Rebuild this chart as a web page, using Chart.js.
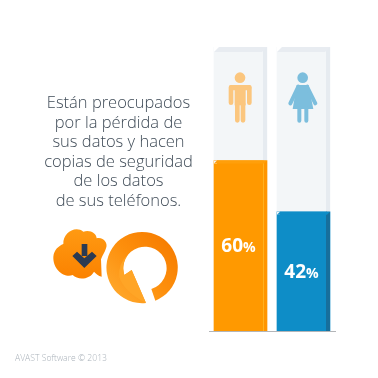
<!DOCTYPE html>
<html>
<head>
<meta charset="utf-8">
<script src="https://cdn.jsdelivr.net/npm/chart.js@4"></script>
<style>
  html, body { margin: 0; background: #fff; }
  #wrap { position: relative; width: 378px; height: 378px; overflow: hidden; }
  canvas, svg, .text { position: absolute; }
  .text { font-family: "Open Sans", sans-serif; font-weight: 300; white-space: nowrap; }
  #caption { left: 30px; top: 92px; width: 177px; text-align: center; font-size: 16.5px; line-height: 19.6px; color: #3f4b57; }
  #footer { left: 15px; top: 351px; font-size: 8.6px; line-height: 14px; color: #aab2ba; }
</style>
</head>
<body>
<div id="wrap">
  <canvas id="chart" width="378" height="378"></canvas>

  <div id="caption" class="text">Están preocupados<br>por la pérdida de<br>sus datos y hacen<br>copias de seguridad<br>de los datos<br>de sus teléfonos.</div>
  <div id="footer" class="text">AVAST Software © 2013</div>

  <!-- man and woman, sitting on the pale part of the bars -->
  <svg style="left:200px;top:30px" width="140" height="150" viewBox="0 0 420 450">
    <g fill="#fbc67e" stroke="#fbc67e" stroke-linecap="round">
      <circle cx="120" cy="143" r="16" stroke="none"/>
      <rect x="87" y="165" width="67" height="16" rx="8" stroke="none"/>
      <rect x="104" y="170" width="33" height="56" stroke="none"/>
      <path d="M93 172V218M148 172V218M112 220V271M129 220V271" fill="none" stroke-width="14"/>
    </g>
    <g fill="#7cbedd" stroke="#7cbedd" stroke-linecap="round">
      <circle cx="308" cy="143" r="16" stroke="none"/>
      <path d="M290 165H326L340 237H278Z" stroke="none"/>
      <path d="M295 170L271 220M321 170L346 220M298 235V272M319 235V272" fill="none" stroke-width="12"/>
    </g>
  </svg>

  <!-- cloud and logo -->
  <svg style="left:40px;top:220px" width="150" height="100" viewBox="0 0 450 300">
    <defs>
      <linearGradient id="cloudFill" x1="0" y1="0" x2="0" y2="1">
        <stop offset="0" stop-color="#ff9a12"/>
        <stop offset="1" stop-color="#fb8200"/>
      </linearGradient>
      <linearGradient id="ringFill" x1="0.1" y1="0.9" x2="0.9" y2="0.1">
        <stop offset="0" stop-color="#ffa82c"/>
        <stop offset="0.5" stop-color="#fd8f0c"/>
        <stop offset="1" stop-color="#f67c00"/>
      </linearGradient>
    </defs>
    <path d="M185 170C175 168 168 160 162 155C150 178 115 182 98 165C75 175 38 150 40 110C42 90 55 78 70 72C68 40 105 15 130 35C150 28 170 40 170 55C190 50 205 70 198 85C194 98 188 105 183 118Z" fill="url(#cloudFill)"/>
    <path d="M125 72H142V108H125Z" fill="#2b3a52"/>
    <path d="M97 108L111 95L133 115L156 95L170 108L133 144Z" fill="#2b3a52"/>
    <g transform="translate(3 2)">
      <path d="M315 247A107 107 0 1 1 343 240L331 205A65 65 0 1 0 250 163L272 148Z" fill="url(#ringFill)"/>
      <path d="M315 247L272 148L250 163A65 65 0 0 1 262 101A80 80 0 0 0 235 170Q250 215 315 247Z" fill="#ffa526"/>
    </g>
  </svg>
</div>

<script>
const categories = ['Hombres', 'Mujeres'];
const percentValues = [60, 42];
const fullValues = [100, 100];
const barColors = ['#ff9900', '#0e8dc7'];
const barSideColors = ['#ff9500', '#176f9c'];
const barEdgeColors = ['#ffb11f', '#176f9c'];
const barTopColors = ['#ff9f0a', '#0e8dc7'];

// top face as a slanted strip, leaves the left corner showing what is behind
function topFace(ctx, bar, depth, color) {
  const left = bar.x - bar.width / 2;
  const right = bar.x + bar.width / 2;
  ctx.fillStyle = color;
  ctx.beginPath();
  ctx.moveTo(left + depth, bar.y);
  ctx.lineTo(right, bar.y);
  ctx.lineTo(right - depth, bar.y + depth);
  ctx.lineTo(left, bar.y + depth);
  ctx.closePath();
  ctx.fill();
}

// sides and top faces for the 3d look, plus the value labels
const bar3dPlugin = {
  id: 'bar3d',
  afterDatasetsDraw(chart) {
    const ctx = chart.ctx;
    const side = 4;
    const full = chart.getDatasetMeta(1).data;
    const value = chart.getDatasetMeta(0).data;

    ctx.save();
    full.forEach((bar, i) => {
      const right = bar.x + bar.width / 2;
      ctx.fillStyle = '#e6ebf0';
      ctx.fillRect(right - side, bar.y, side, value[i].y - bar.y);
      // corner
      ctx.fillStyle = '#fff';
      ctx.fillRect(bar.x - bar.width / 2, bar.y, 5, 5);
      topFace(ctx, bar, 5, '#e8ecf1');
    });

    value.forEach((bar, i) => {
      const left = bar.x - bar.width / 2;
      const right = bar.x + bar.width / 2;
      ctx.fillStyle = barSideColors[i];
      ctx.fillRect(right - side, bar.y, side, bar.base - bar.y);
      ctx.fillStyle = barEdgeColors[i];
      ctx.fillRect(right - side, bar.y, 1, bar.base - bar.y);
      ctx.fillStyle = '#f3f6f8';
      ctx.fillRect(left, bar.y, 3, 3);
      topFace(ctx, bar, 3, barTopColors[i]);

      const big = '700 19px "Open Sans", sans-serif';
      const small = '700 14px "Open Sans", sans-serif';
      const num = String(percentValues[i]);
      ctx.font = big;
      const numWidth = ctx.measureText(num).width;
      ctx.font = small;
      const pctWidth = ctx.measureText('%').width;
      const start = bar.x - side / 2 - (numWidth + pctWidth) / 2;
      const y = (bar.y + bar.base) / 2 + 6.5;
      ctx.fillStyle = '#fff';
      ctx.textAlign = 'left';
      ctx.textBaseline = 'alphabetic';
      ctx.font = big;
      ctx.fillText(num, start, y);
      ctx.font = small;
      ctx.fillText('%', start + numWidth, y);
    });
    ctx.restore();
  }
};

new Chart(document.getElementById('chart').getContext('2d'), {
  type: 'bar',
  data: {
    labels: categories,
    datasets: [
      { data: percentValues, backgroundColor: barColors, barThickness: 53 },
      { data: fullValues, backgroundColor: '#f3f6f8', barThickness: 53 },
    ],
  },
  options: {
    responsive: false,
    animation: false,
    layout: { padding: { left: 209, right: 43, top: 47, bottom: 47 } },
    plugins: { legend: { display: false }, tooltip: { enabled: false } },
    scales: {
      x: {
        stacked: true,
        ticks: { display: false },
        grid: { display: false, drawTicks: false },
        border: { color: '#b3b5b8', width: 1 },
      },
      y: { display: false, min: 0, max: 100 },
    },
  },
  plugins: [bar3dPlugin],
});
</script>
</body>
</html>
